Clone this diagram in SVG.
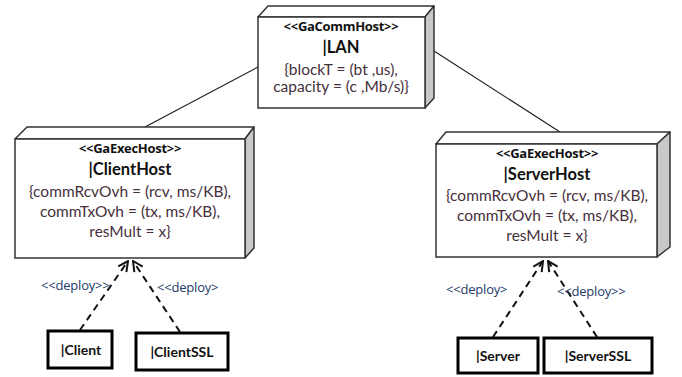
<svg xmlns="http://www.w3.org/2000/svg" width="682" height="377" viewBox="0 0 682 377">
  <style>
    .front { fill: #ffffff; stroke: #333333; stroke-width: 1.5; }
    .top { fill: #ffffff; stroke: #333333; stroke-width: 1.5; stroke-linejoin: round; }
    .side { fill: #c8c8c8; stroke: #333333; stroke-width: 1.5; stroke-linejoin: round; }
    .artifact { fill: #ffffff; stroke: #000000; stroke-width: 3; }
    text { font-family: Lato, "Open Sans", "Liberation Sans", sans-serif; text-anchor: middle; }
    .stereo { font-family: "Open Sans", Lato, sans-serif; font-size: 13px; font-weight: bold; fill: #111111; letter-spacing: -0.3px; }
    .name { font-size: 16.5px; font-weight: bold; fill: #111111; }
    .attr { font-size: 15.5px; fill: #46303c; }
    .small { font-size: 14px; font-weight: bold; fill: #111111; }
    .dep { font-family: "Open Sans", Lato, sans-serif; font-size: 13px; fill: #243a6a; text-anchor: start; letter-spacing: -0.2px; }
    .assoc { stroke: #222222; stroke-width: 1.2; fill: none; }
    .deploy { stroke: #111111; stroke-width: 2; stroke-dasharray: 7 5; fill: none; marker-end: url(#open); }
  </style>
  <defs>
    <marker id="open" viewBox="0 0 12 12" refX="11" refY="6" markerWidth="12" markerHeight="12" markerUnits="userSpaceOnUse" orient="auto">
      <path d="M1,1 L11,6 L1,11" fill="none" stroke="#111111" stroke-width="2"/>
    </marker>
  </defs>

  <g id="connectors">
    <line class="assoc" x1="258" y1="67" x2="145" y2="127"/>
    <line class="assoc" x1="434" y1="51" x2="560" y2="132"/>
    <line class="deploy" x1="80" y1="330" x2="128" y2="261"/>
    <line class="deploy" x1="180" y1="332" x2="133" y2="261"/>
    <line class="deploy" x1="493" y1="337" x2="543" y2="261"/>
    <line class="deploy" x1="597" y1="337" x2="548" y2="261"/>
    <text class="dep" x="41" y="290">&lt;&lt;deploy&gt;&gt;</text>
    <text class="dep" x="157" y="292">&lt;&lt;deploy&gt;</text>
    <text class="dep" x="446" y="294">&lt;&lt;deploy&gt;</text>
    <text class="dep" x="557" y="296">&lt;&lt;deploy&gt;&gt;</text>
  </g>

  <g id="lan">
    <polygon class="top" points="258,17 268,6 434,6 425,17"/>
    <polygon class="side" points="425,17 434,6 434,98 425,108"/>
    <rect class="front" x="258" y="17" width="167" height="91"/>
    <text class="stereo" x="341" y="31">&lt;&lt;GaCommHost&gt;&gt;</text>
    <text class="name" x="341" y="53">|LAN</text>
    <text class="attr" x="341" y="75">{blockT = (bt ,us),</text>
    <text class="attr" x="341" y="92">capacity = (c ,Mb/s)}</text>
  </g>

  <g id="clienthost">
    <polygon class="top" points="15,139 27,127 254,127 245,139"/>
    <polygon class="side" points="245,139 254,127 254,248 245,258"/>
    <rect class="front" x="15" y="139" width="230" height="119"/>
    <text class="stereo" x="130" y="153">&lt;&lt;GaExecHost&gt;&gt;</text>
    <text class="name" x="130" y="175">|ClientHost</text>
    <text class="attr" x="130" y="197">{commRcvOvh = (rcv, ms/KB),</text>
    <text class="attr" x="130" y="217">commTxOvh = (tx, ms/KB),</text>
    <text class="attr" x="130" y="237">resMult = x}</text>
  </g>

  <g id="serverhost">
    <polygon class="top" points="436,144 446,132 670,132 657,144"/>
    <polygon class="side" points="657,144 670,132 670,247 657,257"/>
    <rect class="front" x="436" y="144" width="221" height="113"/>
    <text class="stereo" x="547" y="158">&lt;&lt;GaExecHost&gt;&gt;</text>
    <text class="name" x="547" y="180">|ServerHost</text>
    <text class="attr" x="547" y="201">{commRcvOvh = (rcv, ms/KB),</text>
    <text class="attr" x="547" y="221">commTxOvh = (tx, ms/KB),</text>
    <text class="attr" x="547" y="241">resMult = x}</text>
  </g>

  <g id="client">
    <rect class="artifact" x="48" y="331" width="64" height="37"/>
    <text class="small" x="81" y="355">|Client</text>
  </g>

  <g id="clientssl">
    <rect class="artifact" x="136" y="333" width="92" height="37"/>
    <text class="small" x="182" y="357">|ClientSSL</text>
  </g>

  <g id="server">
    <rect class="artifact" x="458" y="338" width="80" height="35"/>
    <text class="small" x="498" y="361">|Server</text>
  </g>

  <g id="serverssl">
    <rect class="artifact" x="544" y="338" width="108" height="35"/>
    <text class="small" x="598" y="361">|ServerSSL</text>
  </g>
</svg>
